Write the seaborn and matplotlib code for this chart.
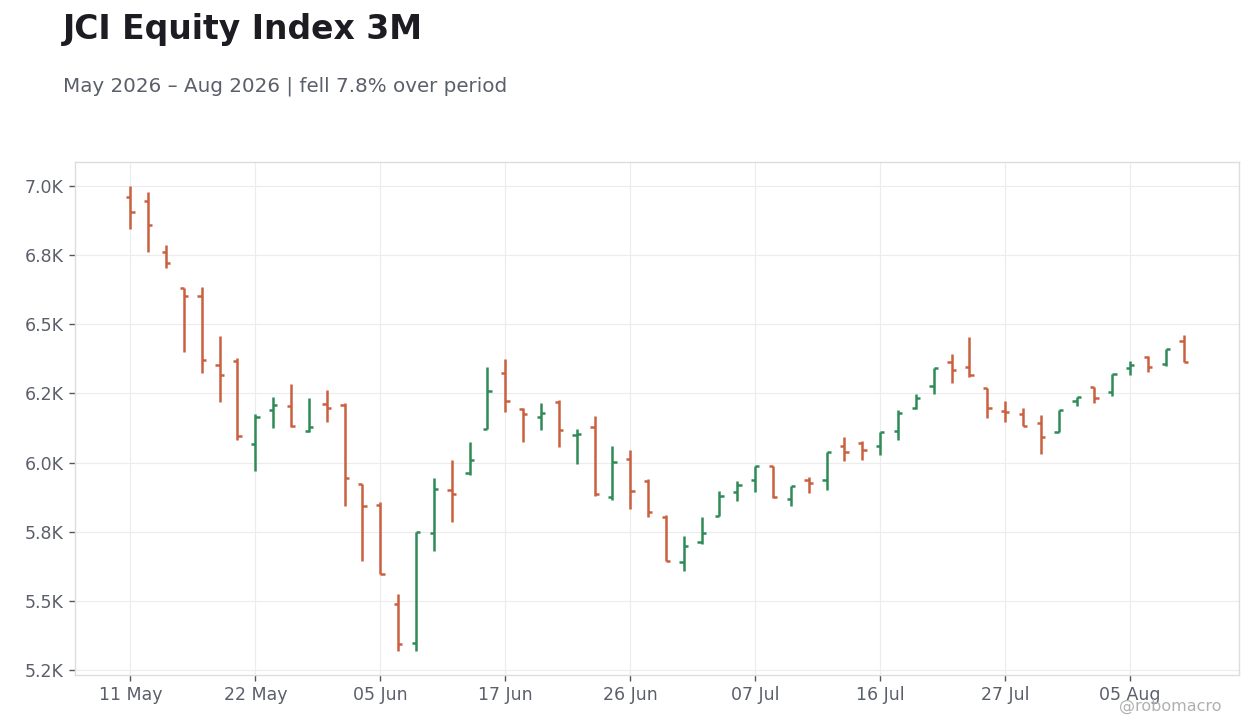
import numpy as np
import pandas as pd
import seaborn as sns
import matplotlib
matplotlib.use("Agg")
import matplotlib.pyplot as plt
from matplotlib.ticker import FuncFormatter, FixedLocator

# trading days (IDX holidays removed)
holidays = ["2026-05-14", "2026-05-15", "2026-05-27", "2026-05-29", "2026-06-01", "2026-06-16"]
dates = [d for d in pd.bdate_range("2026-05-11", "2026-08-10") if d.strftime("%Y-%m-%d") not in holidays]

opens = [6961, 6947, 6763, 6630, 6601, 6352, 6366, 6067, 6190, 6204,
         6113, 6211, 6209, 5923, 5847, 5490, 5348, 5746, 5901, 5962,
         6121, 6323, 6193, 6164, 6218, 6099, 6128, 5875, 6013, 5934,
         5804, 5641, 5713, 5807, 5894, 5937, 5988, 5868, 5936, 5936,
         6060, 6070, 6060, 6114, 6199, 6276, 6365, 6347, 6269, 6186,
         6175, 6142, 6109, 6222, 6272, 6255, 6341, 6381, 6356, 6441]
highs = [7000, 6978, 6786, 6632, 6635, 6459, 6378, 6174, 6239, 6286,
         6232, 6264, 6214, 5924, 5859, 5525, 5749, 5943, 6011, 6073,
         6347, 6376, 6198, 6217, 6227, 6123, 6170, 6059, 6044, 5942,
         5812, 5736, 5805, 5898, 5935, 5988, 5988, 5917, 5949, 6038,
         6093, 6079, 6109, 6191, 6249, 6341, 6393, 6454, 6269, 6221,
         6198, 6172, 6191, 6238, 6272, 6321, 6368, 6386, 6410, 6463]
lows = [6846, 6763, 6705, 6399, 6323, 6218, 6081, 5969, 6124, 6130,
        6112, 6146, 5843, 5644, 5596, 5320, 5320, 5681, 5786, 5955,
        6121, 6182, 6074, 6117, 6056, 5995, 5879, 5865, 5832, 5804,
        5644, 5609, 5707, 5807, 5862, 5894, 5873, 5843, 5890, 5901,
        6005, 6009, 6027, 6081, 6195, 6249, 6288, 6310, 6161, 6148,
        6131, 6032, 6109, 6205, 6216, 6242, 6317, 6327, 6350, 6363]
closes = [6906, 6860, 6723, 6601, 6372, 6318, 6095, 6165, 6208, 6131,
          6129, 6196, 5944, 5843, 5597, 5344, 5749, 5905, 5886, 6009,
          6258, 6222, 6175, 6179, 6117, 6103, 5885, 6002, 5896, 5822,
          5644, 5699, 5746, 5879, 5919, 5988, 5876, 5917, 5925, 6038,
          6040, 6045, 6109, 6178, 6232, 6341, 6336, 6315, 6197, 6184,
          6131, 6092, 6191, 6238, 6235, 6321, 6352, 6345, 6410, 6365]

df = pd.DataFrame({"date": dates, "open": opens, "high": highs, "low": lows, "close": closes})
df["i"] = np.arange(len(df))
df["up"] = df["close"] >= df["open"]

UP = "#2e8b57"
DOWN = "#c9603f"
TXT = "#5b5f6b"

sns.set_theme(style="white")
plt.rcParams["font.family"] = ["DejaVu Sans"]

fig, ax = plt.subplots(figsize=(12.6, 7.28), dpi=100)
fig.subplots_adjust(left=75 / 1260, right=1239 / 1260, top=1 - 162 / 728, bottom=1 - 675 / 728)

colors = np.where(df["up"], UP, DOWN)
w = 0.24
ax.vlines(df["i"], df["low"], df["high"], colors=colors, linewidth=1.8, zorder=3)
ax.hlines(df["open"], df["i"] - w, df["i"], colors=colors, linewidth=1.8, zorder=3)
ax.hlines(df["close"], df["i"], df["i"] + w, colors=colors, linewidth=1.8, zorder=3)

ax.set_xlim(-3.1, 62.1)
ax.set_ylim(5232, 7087)

ax.yaxis.set_major_locator(FixedLocator(np.arange(5250, 7001, 250)))
ax.yaxis.set_major_formatter(FuncFormatter(lambda v, p: "{:.1f}K".format(v / 1000)))
tick_idx = list(range(0, len(df), 7))
ax.set_xticks(tick_idx)
ax.set_xticklabels([df["date"][k].strftime("%d %b") for k in tick_idx])

ax.grid(True, color="#ececec", linewidth=0.8)
ax.set_axisbelow(True)
for s in ax.spines.values():
    s.set_color("#dddddd")
    s.set_linewidth(1.0)
ax.tick_params(axis="both", which="major", bottom=True, left=True, length=4, width=1,
               color="#555555", labelcolor=TXT, labelsize=12.5, pad=4)
ax.set_xlabel("")
ax.set_ylabel("")

fig.text(63 / 1260, 1 - 30 / 728, "JCI Equity Index 3M", fontsize=23.8, fontweight="bold",
         color="#1c1c22", va="center", ha="left")
fig.text(63 / 1260, 1 - 86 / 728, "May 2026 \u2013 Aug 2026 | fell 7.8% over period", fontsize=14.3,
         color=TXT, va="center", ha="left")
fig.text(1222 / 1260, 1 - 706 / 728, "@robomacro", fontsize=11.5, color="#b0b0b0",
         va="center", ha="right")

fig.savefig("out.png", dpi=100, facecolor="white")
